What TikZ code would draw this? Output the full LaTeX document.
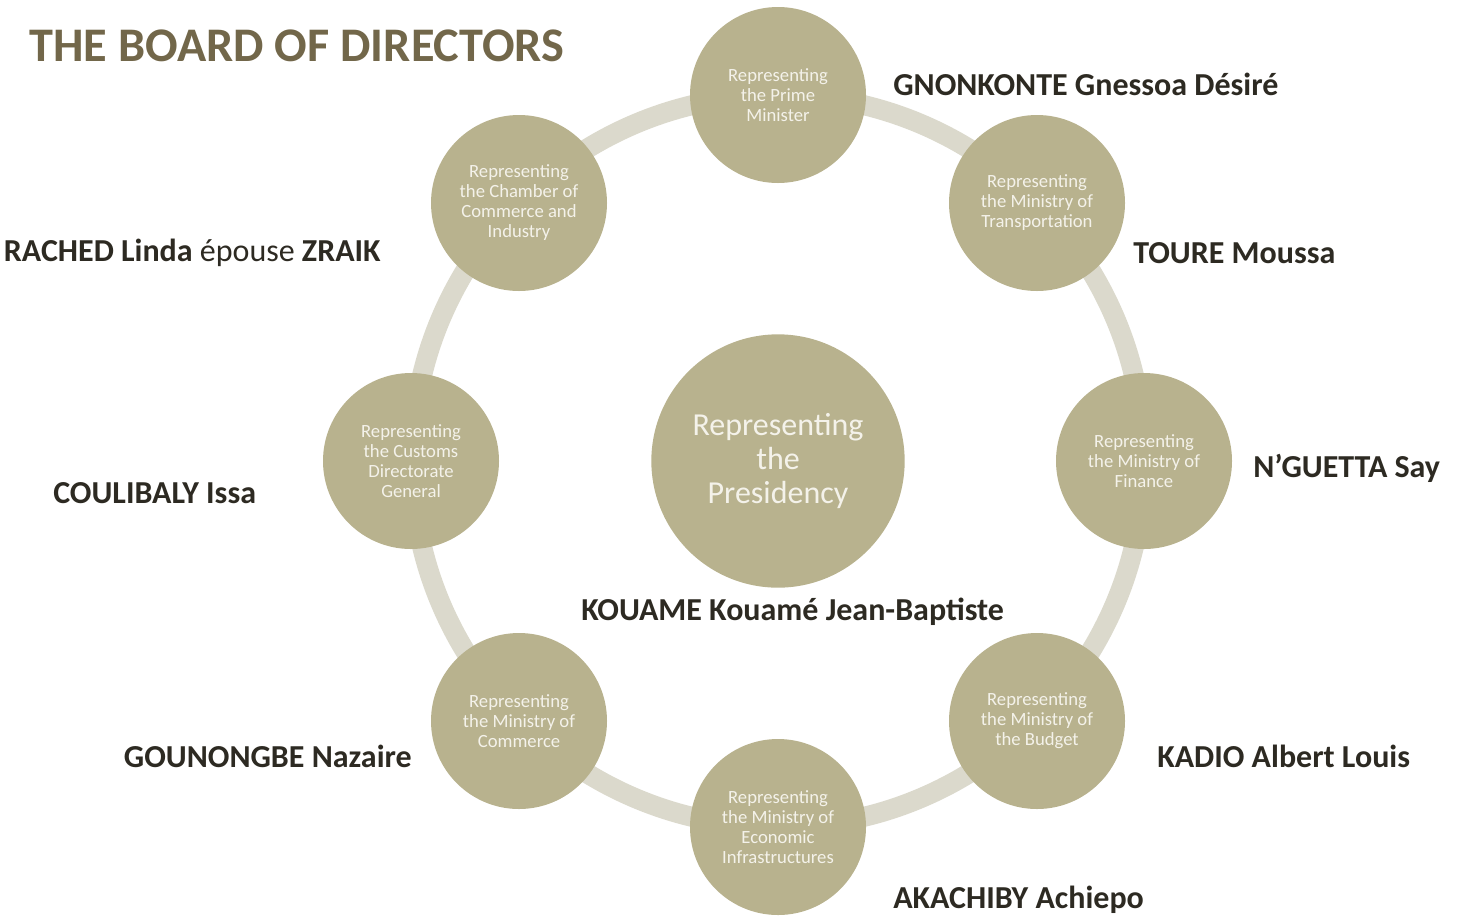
\documentclass[tikz,border=0pt]{standalone}
\usepackage{fontspec}
\setmainfont{Carlito}
\definecolor{bubblefill}{HTML}{B8B28E}
\definecolor{ringcol}{HTML}{DBD9CC}
\definecolor{titlecol}{HTML}{72674A}
\definecolor{namecol}{HTML}{2D2A22}
\definecolor{bubbletext}{HTML}{F4F2EA}
\tikzset{
  bubble/.style={circle, fill=bubblefill, minimum size=132pt, inner sep=0pt,
    text=bubbletext, align=center, font=\fontsize{14}{15}\selectfont},
  centre/.style={circle, fill=bubblefill, minimum size=190pt, inner sep=0pt,
    text=bubbletext, align=center, font=\fontsize{24}{25.5}\selectfont},
  ring/.style={draw=ringcol, line width=15pt},
  person/.style={text=namecol, font=\bfseries\fontsize{24}{28}\selectfont, inner sep=0pt},
}
\begin{document}
\begin{tikzpicture}[x=0.75pt, y=-0.75pt]
\useasboundingbox (0,0) rectangle (1459,915);
% ring linking the board members
\draw[ring] (778,461) circle [radius=274.5pt];
% title
\node[anchor=west, text=titlecol, font=\bfseries\fontsize{36.2}{40}\selectfont, inner sep=0pt]
  (title) at (29,46) {THE BOARD OF DIRECTORS};
% centre and surrounding members
\node[centre] (pres) at (778,461) {\raisebox{-2pt}{\parbox{150pt}{\centering Representing\\the\\Presidency}}};
\node[bubble] (pm)   at (778,95)   {Representing\\the Prime\\Minister};
\node[bubble] (tra)  at (1037,203) {Representing\\the Ministry of\\Transportation};
\node[bubble] (fin)  at (1144,461) {Representing\\the Ministry of\\Finance};
\node[bubble] (bud)  at (1037,721) {Representing\\the Ministry of\\the Budget};
\node[bubble] (eco)  at (778,827)  {Representing\\the Ministry of\\Economic\\Infrastructures};
\node[bubble] (com)  at (519,721)  {Representing\\the Ministry of\\Commerce};
\node[bubble] (cus)  at (411,461)  {Representing\\the Customs\\Directorate\\General};
\node[bubble] (cci)  at (519,203)  {Representing\\the Chamber of\\Commerce and\\Industry};
% names
\node[person, anchor=west] (n1) at (893,84)  {GNONKONTE Gnessoa Désiré};
\node[person, anchor=west] (n2) at (1133,253) {TOURE Moussa};
\node[person, anchor=west] (n3) at (1253,468) {N’GUETTA Say};
\node[person, anchor=west] (n4) at (1157,756) {KADIO Albert Louis};
\node[person, anchor=west] (n5) at (893,900) {AKACHIBY Achiepo};
\node[person, anchor=west] (n6) at (581,612) {KOUAME Kouamé Jean-Baptiste};
\node[person, anchor=east] (n7) at (412,756) {GOUNONGBE Nazaire};
\node[person, anchor=west] (n8) at (53,493)  {COULIBALY Issa};
\node[person, anchor=east] (n9) at (381,253) {RACHED Linda \mdseries épouse \bfseries ZRAIK};
\end{tikzpicture}
\end{document}
